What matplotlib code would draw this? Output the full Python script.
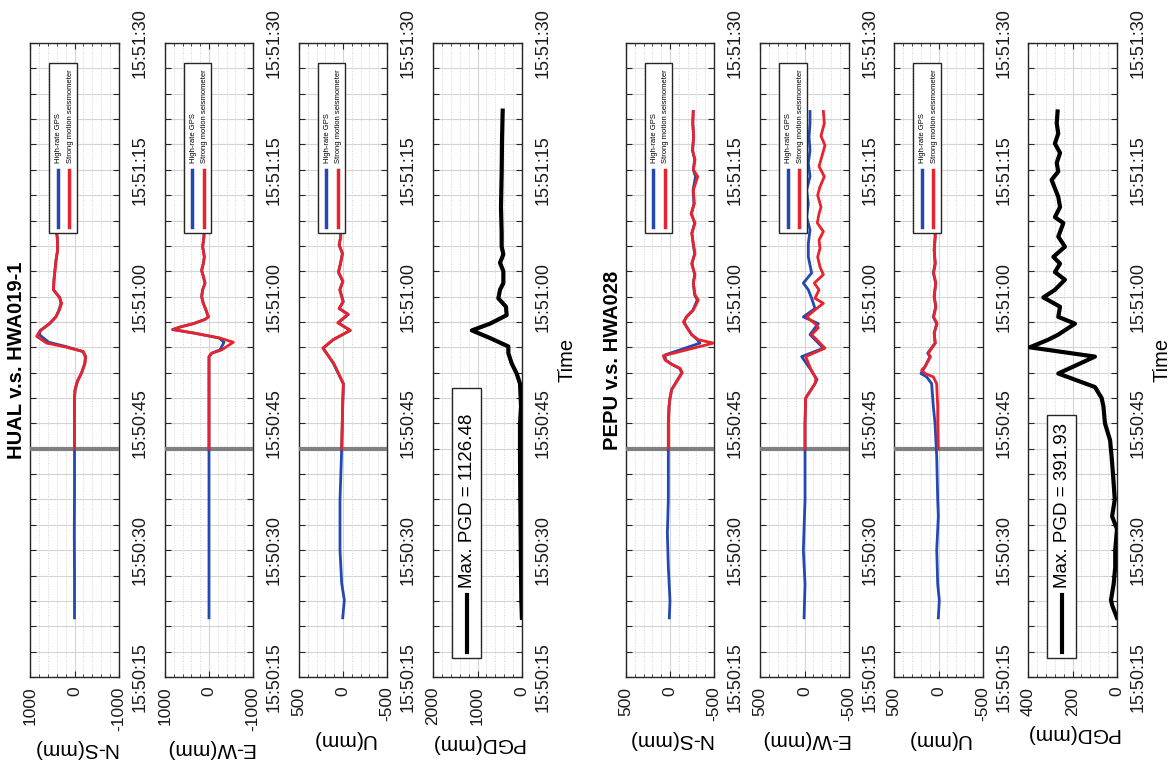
import matplotlib
matplotlib.use('Agg')
import numpy as np
import matplotlib.pyplot as plt
from matplotlib.patches import Rectangle
from matplotlib.lines import Line2D
from matplotlib.ticker import MultipleLocator

plt.rcParams['font.family'] = ['Liberation Sans', 'DejaVu Sans']
plt.rcParams['axes.unicode_minus'] = False

# ---------------- data (time = seconds after 15:50:15) ----------------
T_BASE = "15:50:15"
T_EVENT = 27.0  # 15:50:42 origin marker

# HUAL v.s. HWA019-1
hual_ns_gps_t = [7, 12, 17, 22, 27, 33, 34, 35, 36, 37.1, 37.9, 38.5, 39.1, 39.6, 40.5, 41.0, 41.8, 42.6, 43.4, 44.2, 44.9, 45.8, 47.0, 48.1, 49.3, 50.5, 51.9, 52.5, 55, 58, 61, 64, 67]
hual_ns_gps_v = [0, 0, 5, 0, 0, 0, -15, -70, -160, -230, -245, -190, 200, 580, 790, 770, 560, 420, 350, 305, 330, 470, 460, 440, 415, 380, 385, 400, 410, 420, 415, 420, 425]
hual_ns_sm_t = [27, 33, 34, 35, 36, 37.1, 37.9, 38.5, 39.1, 39.5, 40.3, 40.85, 41.8, 42.6, 43.4, 44.2, 44.9, 45.8, 47.0, 48.1, 49.3, 50.5, 51.9, 52.5, 55, 58, 61, 64, 67]
hual_ns_sm_v = [0, 0, -11, -64, -161, -236, -251, -198, 251, 625, 850, 790, 565, 416, 341, 288, 341, 476, 461, 438, 416, 378, 386, 400, 410, 420, 415, 420, 425]

hual_ew_gps_t = [7, 15, 22, 27, 37.9, 38.3, 38.7, 39.6, 40.1, 40.7, 41.1, 41.4, 41.8, 42.3, 42.6, 43.4, 44.2, 45.0, 45.8, 46.6, 47.4, 48.1, 48.9, 49.7, 50.9, 52.1, 55, 58, 61, 64, 67]
hual_ew_gps_v = [0, 0, 0, 0, 0, -61, -250, -341, -230, 356, 830, 659, 356, 91, 15, 68, 129, 167, 144, 91, 129, 167, 129, 106, 144, 114, 120, 125, 120, 125, 120]
hual_ew_sm_t = [27, 37.9, 38.3, 38.7, 39.6, 40.1, 40.7, 41.1, 41.4, 41.8, 42.3, 42.6, 43.4, 44.2, 45.0, 45.8, 46.6, 47.4, 48.1, 48.9, 49.7, 50.9, 52.1, 55, 58, 61, 64, 67]
hual_ew_sm_v = [0, 0, -61, -288, -553, -250, 356, 811, 659, 356, 91, 15, 68, 129, 167, 144, 91, 129, 167, 129, 106, 144, 114, 120, 125, 120, 125, 120]

hual_u_gps_t = [7, 9.1, 11.1, 15, 21, 27, 32, 34.7, 37.1, 38.9, 39.9, 41.0, 41.9, 42.9, 43.6, 44.4, 45.8, 46.8, 47.9, 48.9, 50.1, 51.1, 52.1, 55, 60, 67]
hual_u_gps_v = [3, -15, 15, 34, 34, 15, 4, -4, 110, 224, 110, -80, 53, -61, 42, -4, 34, 4, 53, 27, 8, 42, 27, 30, 30, 30]
hual_u_sm_t = [27, 32, 34.7, 37.1, 38.9, 39.9, 41.0, 41.9, 42.9, 43.6, 44.4, 45.8, 46.8, 47.9, 48.9, 50.1, 51.1, 52.1, 55, 60, 67]
hual_u_sm_v = [15, 4, -4, 105, 230, 115, -85, 60, -55, 45, 0, 38, 0, 50, 30, 5, 45, 25, 30, 30, 30]

hual_pgd_t = [7, 9, 15, 21, 26, 30, 32, 34.7, 35.9, 37.1, 38.3, 39.1, 40.1, 41.0, 41.8, 42.8, 43.8, 44.8, 45.8, 46.6, 48, 49, 50, 50.9, 52.5, 55.6, 59.6, 63.5, 67]
hual_pgd_v = [2, 15, 27, 38, 45, 45, 22, 45, 120, 232, 307, 307, 719, 1126.48, 719, 345, 360, 532, 494, 419, 419, 494, 419, 457, 457, 472, 457, 449, 434]
hual_pgd_max = "1126.48"

# PEPU v.s. HWA028
pepu_ns_gps_t = [7, 9, 13, 17, 21, 26, 30, 32, 33, 34, 35, 36, 36.5, 37, 37.5, 38.1, 39.5, 39.9, 40.5, 41.4, 42, 42.6, 43.4, 44.6, 45.2, 46.6, 47.6, 48.9, 50.1, 51.3, 52.5, 53.7, 54.8, 56, 57.6, 59.2, 60, 61.2, 62.3, 63.9, 65.5, 66.9]
pepu_ns_gps_v = [8, 0, 19, 30, 19, 19, 19, 11, 0, -19, -76, -133, -110, -19, 50, 57, -341, -310, -246, -190, -160, -185, -260, -310, -280, -265, -280, -250, -280, -262, -250, -280, -245, -272, -262, -290, -265, -280, -258, -268, -260, -263]
pepu_ns_sm_t = [27, 30, 32, 33, 34, 35, 36, 36.5, 37, 37.5, 38, 39.5, 39.9, 40.5, 41.4, 42, 42.6, 43.4, 44.6, 45.2, 46.6, 47.6, 48.9, 50.1, 51.3, 52.5, 53.7, 54.8, 56, 57.6, 59.2, 60, 61.2, 62.3, 63.9, 65.5, 66.9]
pepu_ns_sm_v = [19, 19, 11, 0, -19, -80, -140, -115, -19, 57, 76, -493, -322, -246, -190, -152, -190, -265, -322, -284, -265, -284, -246, -284, -265, -246, -284, -239, -277, -265, -315, -265, -284, -254, -269, -258, -265]

pepu_ew_gps_t = [7, 11, 15, 21, 26, 30, 33, 34.7, 35.2, 36.2, 37.9, 38.9, 39.9, 40.5, 41.3, 41.8, 42.6, 43.6, 44.8, 45.8, 46.6, 47.8, 49.7, 51.3, 52.9, 54.4, 56, 57.6, 59.2, 60.8, 62.3, 63.9, 65.5, 66.9]
pepu_ew_gps_v = [5, -6, 13, -6, -6, -6, -13, -118, -140, -80, 32, -212, -118, -62, -118, -155, 13, -118, -80, -43, 13, -80, -43, -43, -62, -24, -43, -24, -62, -43, -62, -51, -62, -62]
pepu_ew_sm_t = [27, 30, 33, 34.7, 35.3, 36.2, 37.9, 38.9, 39.9, 40.5, 41.3, 41.8, 42.6, 43.6, 44.2, 44.8, 45.8, 46.6, 47.6, 48.5, 49.7, 50.7, 51.7, 52.7, 53.7, 54.8, 55.6, 57, 58, 59.2, 60.4, 61.5, 62.9, 64, 65.5, 66.9]
pepu_ew_sm_v = [-6, -6, -13, -118, -129, -80, -13, -230, -137, -80, -155, -118, -24, -137, -212, -118, -163, -110, -212, -174, -148, -174, -163, -212, -144, -163, -185, -148, -174, -223, -163, -193, -230, -185, -223, -212]

pepu_u_gps_t = [7, 9.1, 11, 15, 19, 21, 26, 30, 32, 34.7, 35.5, 35.9, 36.7, 37.9, 38.3, 39.5, 40.7, 41.8, 42.6, 43.8, 45, 46.6, 47.8, 48.9, 50.5, 52.1, 55, 60, 67]
pepu_u_gps_v = [2, -9, 9, 20, 2, 9, 20, 39, 58, 77, 133, 197, 152, 96, 122, 39, 47, 21, 58, 32, 47, 32, 58, 39, 47, 39, 40, 40, 40]
pepu_u_sm_t = [27, 30, 32, 34.7, 35.5, 35.9, 36.3, 36.7, 37.9, 38.3, 39.5, 40.7, 41.8, 42.6, 43.8, 45, 46.6, 47.8, 48.9, 50.5, 52.1, 55, 60, 67]
pepu_u_sm_v = [2, 9, 9, 21, 58, 150, 190, 152, 90, 115, 35, 50, 15, 55, 28, 50, 30, 55, 35, 50, 35, 40, 40, 40]

pepu_pgd_t = [7, 8.5, 9.1, 11, 13, 15, 17.5, 19, 21, 24, 26, 28, 30, 32, 33, 34.3, 35.9, 37.9, 39, 39.9, 40.5, 41.8, 42.6, 43.8, 44.9, 45.8, 47, 47.9, 48.9, 49.7, 50.9, 52.1, 53.7, 54.4, 55.6, 56.8, 58.8, 59.8, 60.8, 62, 63.1, 64.3, 65.5, 66.9]
pepu_pgd_v = [0, 22, 27, 15, 8, 8, 0, 22, 10, 18, 24, 31, 54, 61, 69, 99, 264, 99, 391.93, 309, 264, 189, 264, 256, 331, 279, 234, 279, 256, 286, 234, 264, 241, 279, 256, 264, 294, 264, 271, 256, 279, 264, 271, 267]
pepu_pgd_max = "391.93"

titles = ["HUAL v.s. HWA019-1", "PEPU v.s. HWA028"]
comp_labels = ["N-S(mm)", "E-W(mm)", "U(mm)", "PGD(mm)"]
legend_labels = ["High-rate GPS", "Strong motion seismometer"]

BLUE = '#2448b2'
RED = '#e8232b'
GRID = '#d4d4d4'
EDGE = '#262626'

W, H = 1176, 767
fig = plt.figure(figsize=(W / 100, H / 100), dpi=100)
Y_TOP, Y_BOT = 43, 677


def add_ax(x0, x1):
    return fig.add_axes([x0 / W, 1 - Y_BOT / H, (x1 - x0) / W, (Y_BOT - Y_TOP) / H])


def tlabel(s):
    h, m, sec = (int(p) for p in T_BASE.split(':'))
    tot = h * 3600 + m * 60 + sec + int(round(s))
    if int(round(s)) % 15:
        return ''
    return f"{tot // 3600:02d}:{(tot // 60) % 60:02d}:{tot % 60:02d}"


def setup(ax, vmax, vmin, major, label):
    ax.set_ylim(0, 75)
    ax.set_xlim(vmax, vmin)
    yt = np.arange(0, 76, 3)
    ax.set_yticks(yt)
    ax.set_yticklabels([tlabel(s) for s in yt], rotation=90, va='center', fontsize=13)
    xt = np.arange(vmin, vmax + 1, major)
    ax.set_xticks(xt)
    ax.set_xticklabels([f"{int(v)}" for v in xt], rotation=90, ha='center', va='top', fontsize=12.5)
    ax.xaxis.set_minor_locator(MultipleLocator(major / 5))
    ax.grid(True, which='major', color=GRID, lw=0.8, ls='-', zorder=0)
    ax.grid(True, which='minor', axis='x', color=GRID, lw=0.7, ls=':', zorder=0)
    ax.set_axisbelow(True)
    ax.tick_params(which='both', direction='in', top=True, bottom=True, left=True, right=True,
                   labelleft=False, labelright=True, color=EDGE, labelcolor='#1a1a1a')
    ax.tick_params(axis='y', which='major', length=4, pad=9)
    ax.tick_params(axis='x', which='major', length=4, pad=7)
    ax.tick_params(axis='x', which='minor', length=2)
    for sp in ax.spines.values():
        sp.set_color(EDGE)
        sp.set_linewidth(1.0)
    ax.set_xlabel(label, rotation=180, fontsize=15, labelpad=6)


def comp_legend(ax):
    ax.add_patch(Rectangle((0.213, 0.700), 0.315, 0.268, transform=ax.transAxes,
                           facecolor='white', edgecolor=EDGE, lw=1.0, zorder=5))
    for xc, col, lab in [(0.31, BLUE, legend_labels[0]), (0.44, RED, legend_labels[1])]:
        ax.add_line(Line2D([xc, xc], [0.710, 0.800], transform=ax.transAxes,
                           color=col, lw=2.5, zorder=6))
        ax.text(xc + 0.01, 0.811, lab, transform=ax.transAxes, rotation=90,
                ha='center', va='bottom', fontsize=5.5, zorder=7)


def pgd_legend(ax, val, top):
    ax.add_patch(Rectangle((0.213, 0.030), 0.326, top - 0.030, transform=ax.transAxes,
                           facecolor='white', edgecolor=EDGE, lw=1.0, zorder=5))
    ax.add_line(Line2D([0.38, 0.38], [0.039, 0.129], transform=ax.transAxes,
                       color='black', lw=3, zorder=6))
    ax.text(0.385, 0.14, f"Max. PGD = {val}", transform=ax.transAxes, rotation=90,
            ha='center', va='bottom', fontsize=13.5, zorder=7)


stations = [
    dict(xs=[(30, 119), (165, 253), (299, 387), (433, 522)],
         comps=[(hual_ns_gps_t, hual_ns_gps_v, hual_ns_sm_t, hual_ns_sm_v, 1000),
                (hual_ew_gps_t, hual_ew_gps_v, hual_ew_sm_t, hual_ew_sm_v, 1000),
                (hual_u_gps_t, hual_u_gps_v, hual_u_sm_t, hual_u_sm_v, 500)],
         pgd=(hual_pgd_t, hual_pgd_v, 2000, 1000, hual_pgd_max, 0.456)),
    dict(xs=[(626, 714), (760, 849), (894, 983), (1028, 1117)],
         comps=[(pepu_ns_gps_t, pepu_ns_gps_v, pepu_ns_sm_t, pepu_ns_sm_v, 500),
                (pepu_ew_gps_t, pepu_ew_gps_v, pepu_ew_sm_t, pepu_ew_sm_v, 500),
                (pepu_u_gps_t, pepu_u_gps_v, pepu_u_sm_t, pepu_u_sm_v, 500)],
         pgd=(pepu_pgd_t, pepu_pgd_v, 400, 200, pepu_pgd_max, 0.413)),
]

for si, st in enumerate(stations):
    for ci, (gt, gv, mt, mv, lim) in enumerate(st['comps']):
        ax = add_ax(*st['xs'][ci])
        setup(ax, lim, -lim, lim, comp_labels[ci])
        ax.axhline(T_EVENT, color='#808080', lw=3, zorder=3)
        ax.plot(gv, gt, color=BLUE, lw=2.0, zorder=4)
        ax.plot(mv, mt, color=RED, lw=2.0, zorder=4)
        comp_legend(ax)
        if ci == 0:
            ax.text(-0.157, 0.5, titles[si], transform=ax.transAxes, rotation=90,
                    ha='center', va='center', fontsize=14.5, fontweight='bold')
    pt, pv, pmax, pmaj, pval, ptop = st['pgd']
    ax = add_ax(*st['xs'][3])
    setup(ax, pmax, 0, pmaj, comp_labels[3])
    ax.plot(pv, pt, color='black', lw=3.0, zorder=4)
    pgd_legend(ax, pval, ptop)
    ax.yaxis.set_label_position('right')
    ax.set_ylabel('Time', rotation=90, fontsize=14.5, labelpad=4)

fig.savefig('out.png', dpi=100)
